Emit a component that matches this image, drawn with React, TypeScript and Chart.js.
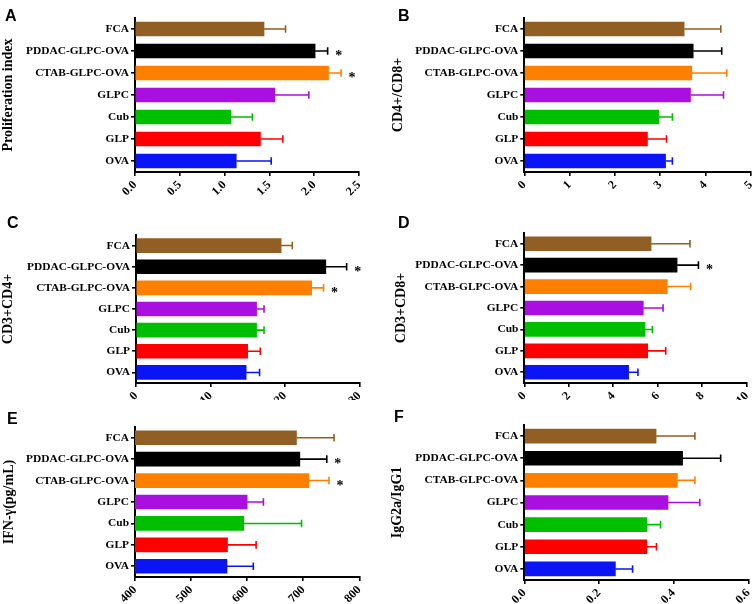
import React, { useEffect, useRef } from "react";
import { Chart, registerables } from "chart.js";

Chart.register(...registerables);

// ---------- data ----------
const categories = ["FCA", "PDDAC-GLPC-OVA", "CTAB-GLPC-OVA", "GLPC", "Cub", "GLP", "OVA"];
const barColors = ["#915F23", "#000000", "#FF8000", "#A80FE0", "#00BF00", "#FF0000", "#0A14F5"];

const valuesA = [1.44, 2.01, 2.16, 1.56, 1.07, 1.40, 1.13];
const errorsA = [0.24, 0.14, 0.14, 0.38, 0.24, 0.25, 0.39];
const starsA = [false, true, true, false, false, false, false];
const xTicksA = [0, 0.5, 1.0, 1.5, 2.0, 2.5];

const valuesB = [3.53, 3.73, 3.70, 3.67, 2.97, 2.72, 3.12];
const errorsB = [0.81, 0.63, 0.77, 0.73, 0.30, 0.42, 0.15];
const starsB = [false, false, false, false, false, false, false];
const xTicksB = [0, 1, 2, 3, 4, 5];

const valuesC = [19.5, 25.5, 23.6, 16.2, 16.2, 15.0, 14.8];
const errorsC = [1.5, 2.8, 1.6, 1.0, 1.0, 1.7, 1.8];
const starsC = [false, true, true, false, false, false, false];
const xTicksC = [0, 10, 20, 30];

const valuesD = [5.70, 6.87, 6.43, 5.35, 5.43, 5.55, 4.69];
const errorsD = [1.75, 0.96, 1.05, 0.89, 0.33, 0.81, 0.42];
const starsD = [false, true, false, false, false, false, false];
const xTicksD = [0, 2, 4, 6, 8, 10];

const valuesE = [688, 694, 710, 600, 594, 565, 564];
const errorsE = [67, 48, 36, 29, 103, 51, 47];
const starsE = [false, true, true, false, false, false, false];
const xTicksE = [400, 500, 600, 700, 800];

const valuesF = [0.353, 0.424, 0.410, 0.385, 0.328, 0.328, 0.244];
const errorsF = [0.104, 0.102, 0.047, 0.085, 0.037, 0.026, 0.046];
const starsF = [false, false, false, false, false, false, false];
const xTicksF = [0, 0.2, 0.4, 0.6];

// ---------- layout ----------
const SERIF = "'Liberation Serif', 'Times New Roman', serif";
const SANS = "'Liberation Sans', Arial, sans-serif";

type Panel = {
  letter: string;
  title: string;
  values: number[];
  errors: number[];
  stars: boolean[];
  ticks: number[];
  decimals: number;
  left: number;
  top: number;
  width: number;
  height: number;
  area: { left: number; right: number; top: number; bottom: number };
  titleX: number;
  letterPos: { x: number; y: number };
};

const panels: Panel[] = [
  {
    letter: "A", title: "Proliferation index", values: valuesA, errors: errorsA, stars: starsA,
    ticks: xTicksA, decimals: 1, left: 0, top: 0, width: 376, height: 200,
    area: { left: 135, right: 359, top: 18, bottom: 172 }, titleX: 8, letterPos: { x: 5, y: 10 },
  },
  {
    letter: "B", title: "CD4+/CD8+", values: valuesB, errors: errorsB, stars: starsB,
    ticks: xTicksB, decimals: 0, left: 380, top: 0, width: 400, height: 200,
    area: { left: 144.3, right: 370.7, top: 18, bottom: 172 }, titleX: 18, letterPos: { x: 398, y: 10 },
  },
  {
    letter: "C", title: "CD3+CD4+", values: valuesC, errors: errorsC, stars: starsC,
    ticks: xTicksC, decimals: 0, left: 0, top: 200, width: 376, height: 200,
    area: { left: 136, right: 359.3, top: 35, bottom: 183 }, titleX: 8.5, letterPos: { x: 7, y: 217 },
  },
  {
    letter: "D", title: "CD3+CD8+", values: valuesD, errors: errorsD, stars: starsD,
    ticks: xTicksD, decimals: 0, left: 380, top: 200, width: 400, height: 200,
    area: { left: 144.3, right: 366.7, top: 33, bottom: 183 }, titleX: 21.5, letterPos: { x: 398, y: 217 },
  },
  {
    letter: "E", title: "IFN-γ(pg/mL)", values: valuesE, errors: errorsE, stars: starsE,
    ticks: xTicksE, decimals: 0, left: 0, top: 400, width: 376, height: 204,
    area: { left: 135, right: 359.3, top: 27, bottom: 177 }, titleX: 9, letterPos: { x: 7, y: 413 },
  },
  {
    letter: "F", title: "IgG2a/IgG1", values: valuesF, errors: errorsF, stars: starsF,
    ticks: xTicksF, decimals: 1, left: 380, top: 400, width: 400, height: 204,
    area: { left: 144.3, right: 368.3, top: 25, bottom: 180 }, titleX: 17, letterPos: { x: 394, y: 411 },
  },
];

function BarPanel({ p }: { p: Panel }) {
  const ref = useRef<HTMLCanvasElement | null>(null);
  useEffect(() => {
    if (!ref.current) return;
    const errorPlugin = {
      id: "errbars" + p.letter,
      afterDatasetsDraw(chart: any) {
        const ctx = chart.ctx;
        const meta = chart.getDatasetMeta(0);
        const xs = chart.scales.x;
        ctx.save();
        meta.data.forEach((bar: any, i: number) => {
          const y = bar.y;
          const x0 = bar.x;
          const x1 = xs.getPixelForValue(p.values[i] + p.errors[i]);
          ctx.strokeStyle = barColors[i];
          ctx.lineWidth = 1.6;
          ctx.beginPath();
          ctx.moveTo(x0, y);
          ctx.lineTo(x1, y);
          ctx.moveTo(x1, y - 3.8);
          ctx.lineTo(x1, y + 3.8);
          ctx.stroke();
          if (p.stars[i]) {
            ctx.fillStyle = "#000";
            ctx.font = "bold 14px " + SERIF;
            ctx.textAlign = "center";
            ctx.textBaseline = "alphabetic";
            ctx.fillText("*", x1 + 11, y + 9);
          }
        });
        ctx.restore();
      },
    };
    const H = p.height;
    const chart = new Chart(ref.current, {
      type: "bar",
      data: {
        labels: categories,
        datasets: [
          {
            data: p.values,
            backgroundColor: barColors,
            borderWidth: 0,
            barThickness: 14,
          },
        ],
      },
      options: {
        indexAxis: "y",
        animation: false,
        responsive: false,
        maintainAspectRatio: false,
        events: [],
        layout: {
          padding: { left: 0, top: p.area.top, right: p.width - p.area.right, bottom: 0 },
        },
        plugins: { legend: { display: false }, tooltip: { enabled: false } },
        scales: {
          x: {
            type: "linear",
            min: p.ticks[0],
            max: p.ticks[p.ticks.length - 1],
            z: 1,
            afterBuildTicks: (s: any) => {
              s.ticks = p.ticks.map((v) => ({ value: v }));
            },
            afterFit: (s: any) => {
              s.height = H - p.area.bottom;
              s.paddingLeft = 0;
              s.paddingRight = 0;
            },
            border: { display: true, color: "#000", width: 2 },
            grid: {
              display: true,
              drawOnChartArea: false,
              drawTicks: true,
              tickLength: 4,
              color: "#000",
              lineWidth: 1.6,
            },
            ticks: {
              autoSkip: false,
              minRotation: 45,
              maxRotation: 45,
              padding: 2,
              color: "#000",
              font: { family: SERIF, weight: "bold", size: 12 },
              callback: (v: any) => Number(v).toFixed(p.decimals),
            },
          },
          y: {
            type: "category",
            z: 1,
            afterFit: (s: any) => {
              s.width = p.area.left;
            },
            border: { display: true, color: "#000", width: 2 },
            grid: {
              display: true,
              offset: false,
              drawOnChartArea: false,
              drawTicks: true,
              tickLength: 4,
              color: "#000",
              lineWidth: 1.6,
            },
            ticks: {
              padding: 2,
              color: "#000",
              font: { family: SERIF, weight: "bold", size: 11.4 },
            },
            title: {
              display: true,
              text: p.title,
              color: "#000",
              font: { family: SERIF, weight: "bold", size: 14, lineHeight: 1 },
              padding: { top: Math.max(0, p.titleX - 7), bottom: 0 },
            },
          },
        },
      } as any,
      plugins: [errorPlugin],
    });
    return () => chart.destroy();
  }, [p]);

  return (
    <canvas
      ref={ref}
      width={p.width}
      height={p.height}
      style={{
        position: "absolute",
        left: p.left,
        top: p.top,
        width: p.width,
        height: p.height,
        display: "block",
      }}
    />
  );
}

export default function App() {
  return (
    <div
      style={{
        position: "fixed",
        left: 0,
        top: 0,
        width: 753,
        height: 604,
        overflow: "hidden",
        background: "#fff",
      }}
    >
      {panels.map((p) => (
        <BarPanel key={p.letter} p={p} />
      ))}
      {panels.map((p) => (
        <div
          key={"L" + p.letter}
          style={{
            position: "absolute",
            left: p.letterPos.x,
            top: p.letterPos.y - 2,
            fontFamily: SANS,
            fontWeight: "bold",
            fontSize: 16,
            lineHeight: "16px",
            color: "#000",
          }}
        >
          {p.letter}
        </div>
      ))}
    </div>
  );
}
